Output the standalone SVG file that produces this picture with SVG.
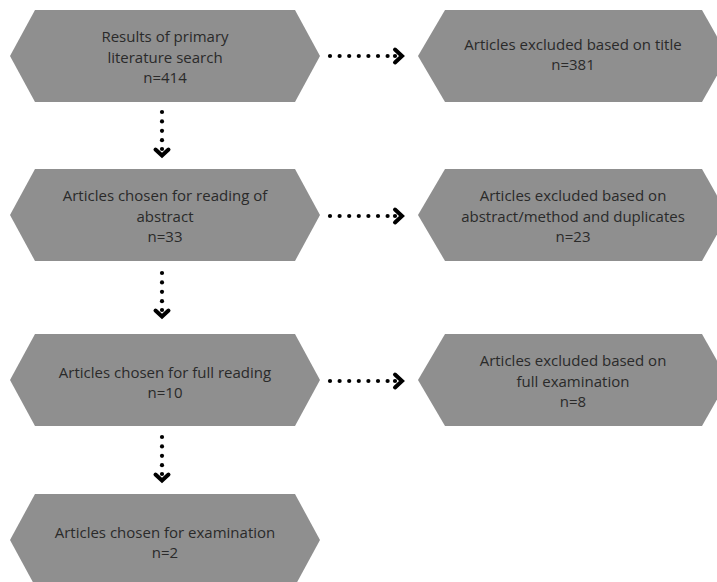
<svg xmlns="http://www.w3.org/2000/svg" width="717" height="582" viewBox="0 0 717 582">
<defs>
<style>
.hex{fill:#8f8f8f;}
.t{font-family:"Open Sans","Liberation Sans",sans-serif;font-size:15px;fill:#2a2a2a;text-anchor:middle;dominant-baseline:central;}
.dot{fill:#000;}
.chev{fill:none;stroke:#000;stroke-width:4;stroke-linecap:round;stroke-linejoin:miter;}
</style>
<g id="dotsH"><circle class="dot" cx="0" cy="0" r="2.1"/><circle class="dot" cx="9.6" cy="0" r="2.1"/><circle class="dot" cx="19.2" cy="0" r="2.1"/><circle class="dot" cx="28.8" cy="0" r="2.1"/><circle class="dot" cx="38.4" cy="0" r="2.1"/><circle class="dot" cx="48" cy="0" r="2.1"/><circle class="dot" cx="57.6" cy="0" r="2.1"/><circle class="dot" cx="65" cy="0" r="2.1"/><polyline class="chev" points="65,-6.5 72,0 65,6.5"/></g>
<g id="dotsV"><circle class="dot" cx="0" cy="0" r="2.1"/><circle class="dot" cx="0" cy="9.4" r="2.1"/><circle class="dot" cx="0" cy="18.8" r="2.1"/><circle class="dot" cx="0" cy="28.2" r="2.1"/><circle class="dot" cx="0" cy="37" r="2.1"/><polyline class="chev" points="-6.5,37.5 0,43.5 6.5,37.5"/></g>
</defs>
<rect width="717" height="582" fill="#fff"/>
<g id="n1"><polygon class="hex" points="10,56 35,10 295,10 320,56 295,102 35,102"/>
<text class="t" x="165" y="36">Results of primary</text><text class="t" x="165" y="56.5">literature search</text><text class="t" x="165" y="77">n=414</text></g>
<g id="n2"><polygon class="hex" points="10,215 35,169 295,169 320,215 295,261 35,261"/>
<text class="t" x="165" y="195">Articles chosen for reading of</text><text class="t" x="165" y="215.5">abstract</text><text class="t" x="165" y="236">n=33</text></g>
<g id="n3"><polygon class="hex" points="10,380 35,334 295,334 320,380 295,426 35,426"/>
<text class="t" x="165" y="372">Articles chosen for full reading</text><text class="t" x="165" y="392">n=10</text></g>
<g id="n4"><polygon class="hex" points="10,540 35,494 295,494 320,540 295,586 35,586"/>
<text class="t" x="165" y="532">Articles chosen for examination</text><text class="t" x="165" y="552">n=2</text></g>
<g id="r1"><polygon class="hex" points="418,56 445,10 702,10 728,56 702,102 445,102"/>
<text class="t" x="573" y="44">Articles excluded based on title</text><text class="t" x="573" y="64">n=381</text></g>
<g id="r2"><polygon class="hex" points="418,215 445,169 702,169 728,215 702,261 445,261"/>
<text class="t" x="573" y="195">Articles excluded based on</text><text class="t" x="573" y="215.5">abstract/method and duplicates</text><text class="t" x="573" y="236">n=23</text></g>
<g id="r3"><polygon class="hex" points="418,380 445,334 702,334 728,380 702,426 445,426"/>
<text class="t" x="573" y="360">Articles excluded based on</text><text class="t" x="573" y="380.5">full examination</text><text class="t" x="573" y="401">n=8</text></g>
<g id="connectors">
<use href="#dotsH" x="330" y="56"/>
<use href="#dotsH" x="330" y="216"/>
<use href="#dotsH" x="330" y="381"/>
<use href="#dotsV" x="162" y="112"/>
<use href="#dotsV" x="162" y="273"/>
<use href="#dotsV" x="162" y="437"/>
</g>
</svg>
